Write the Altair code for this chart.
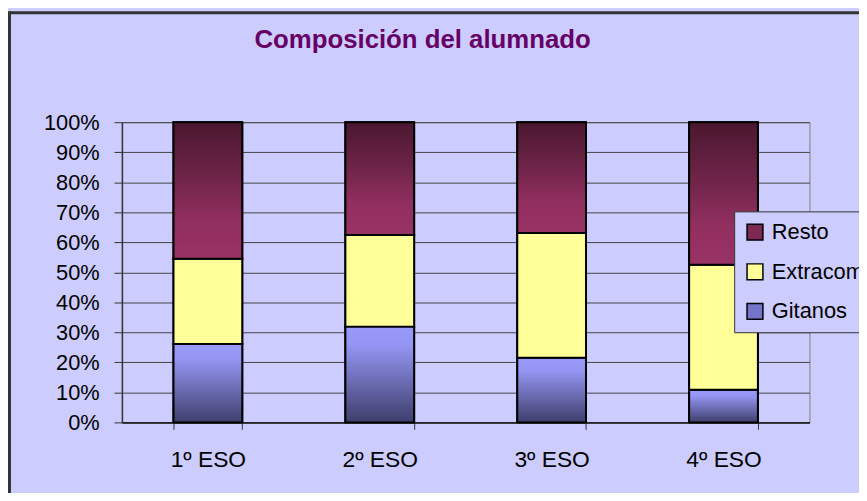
import altair as alt
import pandas as pd

# ---- data (percent of students per course) ----
cursos = ["1º ESO", "2º ESO", "3º ESO", "4º ESO"]
series = ["Gitanos", "Extracomunitarios", "Resto"]          # stacking order, bottom -> top
gitanos = [26.1, 31.9, 21.5, 10.9]
extracom = [28.4, 30.5, 41.6, 41.6]
resto = [45.5, 37.6, 36.9, 47.5]

legend_order = ["Resto", "Extracomunitarios", "Gitanos"]
legend_colors = ["#7B2852", "#FFFF99", "#7474C8"]
titulo = "Composición del alumnado"

rows = []
for i, c in enumerate(cursos):
    for k, (s, vals) in enumerate(zip(series, [gitanos, extracom, resto])):
        rows.append({"curso": c, "serie": s, "valor": vals[i], "orden": k})
df = pd.DataFrame(rows)

FONT = "Liberation Sans"

grad_gitanos = alt.LinearGradient(
    gradient="linear", x1=0, x2=0, y1=0, y2=1,
    stops=[alt.GradientStop(color="#9A9AFC", offset=0),
           alt.GradientStop(color="#9494F2", offset=0.2),
           alt.GradientStop(color="#3E3E6C", offset=1)])
grad_extra = alt.LinearGradient(
    gradient="linear", x1=0, x2=0, y1=0, y2=1,
    stops=[alt.GradientStop(color="#FFFF99", offset=0),
           alt.GradientStop(color="#FFFF99", offset=1)])
grad_resto = alt.LinearGradient(
    gradient="linear", x1=0, x2=0, y1=0, y2=1,
    stops=[alt.GradientStop(color="#4A172F", offset=0),
           alt.GradientStop(color="#6E2448", offset=0.4),
           alt.GradientStop(color="#912F5E", offset=0.72),
           alt.GradientStop(color="#993366", offset=1)])

base = alt.Chart(df).transform_stack(
    stack="valor", groupby=["curso"], as_=["y0", "y1"], offset="normalize",
    sort=[alt.SortField("orden", order="ascending")]
).encode(
    x=alt.X("curso:N", sort=cursos,
            scale=alt.Scale(paddingInner=0.6, paddingOuter=0.3),
            axis=alt.Axis(title=None, labelAngle=0, labelFontSize=23, labelFont=FONT,
                          labelColor="black", labelPadding=20, tickBand="extent",
                          tickSize=7, tickColor="#333333", tickWidth=1,
                          domainColor="#222222", domainWidth=2, grid=False)),
    y=alt.Y("y0:Q", scale=alt.Scale(domain=[0, 1], nice=False),
            axis=alt.Axis(title=None, values=[i / 10 for i in range(11)], format=".0%",
                          labelFontSize=22, labelFont=FONT, labelColor="black",
                          labelPadding=15, tickSize=8, tickColor="#333333",
                          domainColor="#333333", domainWidth=1.5,
                          gridColor="#444444", gridWidth=1)),
    y2="y1:Q",
)

plain = base.mark_bar(stroke="black", strokeWidth=2).encode(
    color=alt.Color("serie:N",
                    scale=alt.Scale(domain=legend_order, range=legend_colors),
                    legend=alt.Legend(title=None, orient="none", legendX=618, legendY=90,
                                      direction="vertical", symbolType="square",
                                      symbolSize=256, symbolStrokeColor="black",
                                      symbolStrokeWidth=1.5, labelFontSize=22,
                                      labelFont=FONT, labelColor="black", labelOffset=6,
                                      rowPadding=18, padding=10, strokeColor="#333333",
                                      fillColor="#CCCCFF", labelLimit=400))
)

def seg(name, grad):
    return base.transform_filter(alt.datum.serie == name).mark_bar(
        color=grad, stroke="black", strokeWidth=2)

one = alt.Data(values=[{"t": titulo}])

title_mark = alt.Chart(one).mark_text(
    font=FONT, fontSize=26, fontWeight="bold", color="#660066",
    align="center", baseline="alphabetic").encode(
    text="t:N", x=alt.value(303.5), y=alt.value(-75))

border_top = alt.Chart(one).mark_rule(
    color="#333333", strokeWidth=3).encode(
    x=alt.value(-113.5), x2=alt.value(760), y=alt.value(-110.5))
border_left = alt.Chart(one).mark_rule(
    color="#333333", strokeWidth=3).encode(
    x=alt.value(-113.5), y=alt.value(-112), y2=alt.value(380))

chart = alt.layer(
    plain,
    seg("Gitanos", grad_gitanos),
    seg("Extracomunitarios", grad_extra),
    seg("Resto", grad_resto),
    title_mark,
    border_top,
    border_left,
).properties(
    width=694, height=303,
    autosize=alt.AutoSizeParams(type="none"),
    padding={"left": 115, "top": 113, "right": 50, "bottom": 69},
).configure(
    background="#CCCCFF"
).configure_view(
    stroke="#808080", strokeWidth=1
)

chart.save("out.html", embed_options={"renderer": "svg", "actions": False})
